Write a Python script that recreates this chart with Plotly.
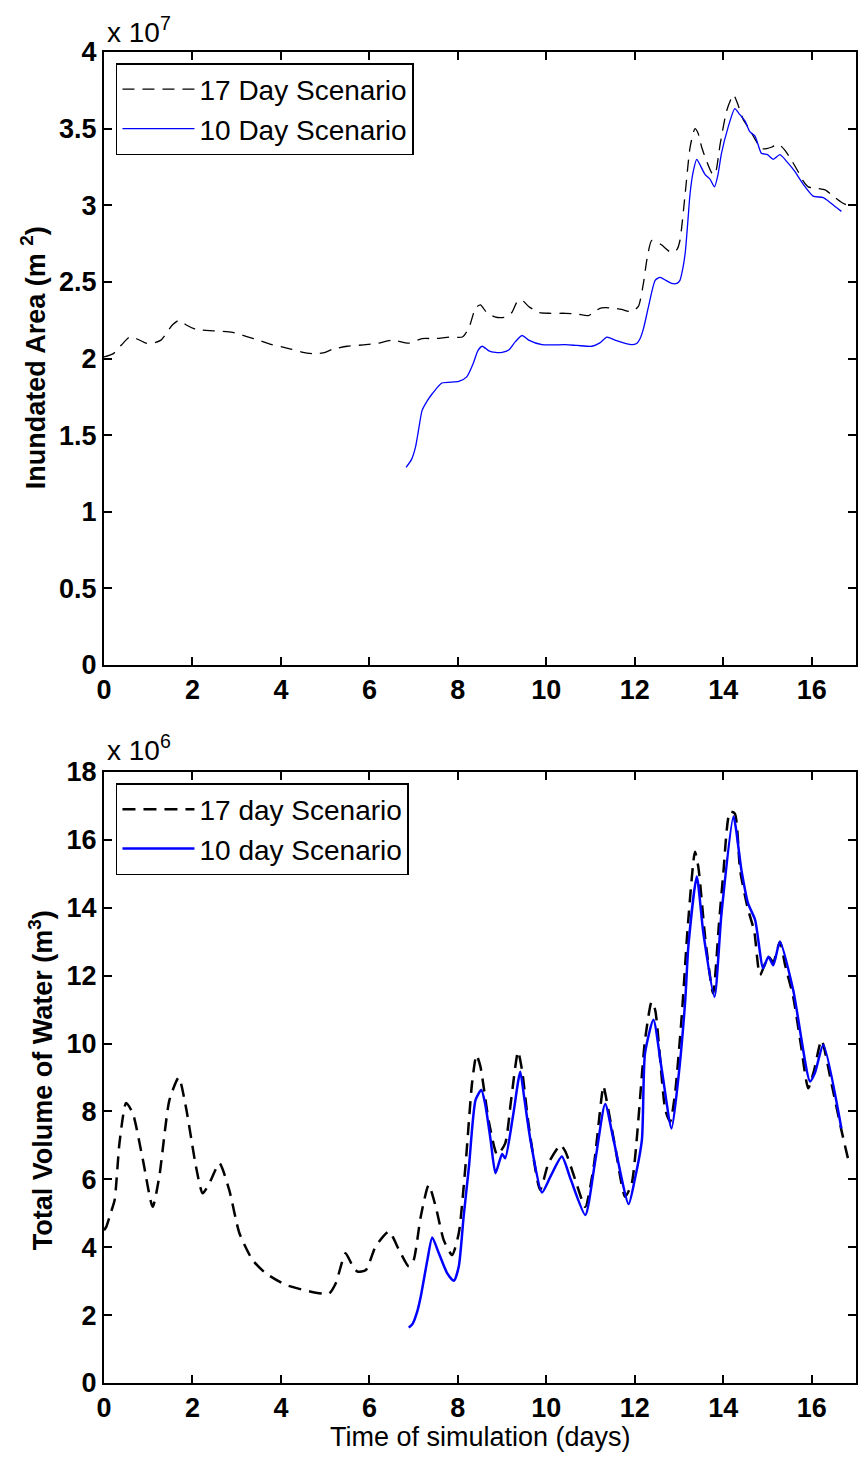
import plotly.graph_objects as go

# ---------------- data (top panel: inundated area, x 1e7 m^2) ----------------
area17_days = [0.00, 0.20, 0.40, 0.58, 0.73, 0.95, 1.10, 1.29, 1.55, 1.70, 1.85, 2.08, 2.50, 2.91,
               3.43, 3.80, 4.11, 4.50, 4.79, 5.00, 5.16, 5.50, 5.92, 6.20, 6.52, 6.89, 7.19, 7.50,
               7.80, 8.10, 8.25, 8.40, 8.51, 8.65, 8.85, 9.07, 9.22, 9.34, 9.45, 9.60, 9.83, 10.10,
               10.43, 10.70, 10.95, 11.10, 11.25, 11.48, 11.70, 11.93, 12.08, 12.20, 12.27, 12.38,
               12.50, 12.61, 12.83, 12.95, 13.02, 13.14, 13.25, 13.36, 13.43, 13.51, 13.62, 13.74,
               13.81, 13.93, 14.08, 14.23, 14.34, 14.45, 14.56, 14.70, 14.86, 14.98, 15.10, 15.24,
               15.39, 15.55, 15.69, 15.80, 15.92, 16.14, 16.30, 16.44, 16.67, 16.80]
area17_vals = [2.01, 2.03, 2.09, 2.14, 2.13, 2.10, 2.10, 2.12, 2.22, 2.25, 2.22, 2.19, 2.18, 2.17,
               2.125, 2.09, 2.07, 2.04, 2.03, 2.04, 2.06, 2.08, 2.09, 2.10, 2.12, 2.10, 2.13, 2.13,
               2.14, 2.14, 2.20, 2.33, 2.35, 2.30, 2.27, 2.27, 2.30, 2.37, 2.38, 2.34, 2.30, 2.295,
               2.295, 2.29, 2.28, 2.31, 2.33, 2.33, 2.32, 2.305, 2.34, 2.50, 2.64, 2.77,
               2.76, 2.74, 2.69, 2.71, 2.77, 3.08, 3.38, 3.50, 3.47, 3.38, 3.29, 3.21,
               3.20, 3.40, 3.62, 3.72, 3.65, 3.56, 3.51, 3.44, 3.37, 3.37, 3.38, 3.40,
               3.36, 3.29, 3.22, 3.16, 3.12, 3.11, 3.10, 3.07, 3.02, 3.00]

area10_days = [6.83, 6.95, 7.04, 7.12, 7.19, 7.30, 7.42, 7.64, 8.02, 8.20, 8.35, 8.45, 8.55, 8.70,
               8.85, 9.00, 9.15, 9.30, 9.45, 9.60, 9.90, 10.43, 10.70, 11.03, 11.20, 11.37, 11.55,
               11.93, 12.05, 12.12, 12.20, 12.31, 12.46, 12.57, 12.70, 12.83, 12.95, 13.02, 13.08,
               13.14, 13.20, 13.25, 13.32, 13.40, 13.48, 13.59, 13.70, 13.80, 13.88, 13.96, 14.11,
               14.26, 14.35, 14.49, 14.60, 14.72, 14.86, 15.00, 15.13, 15.28, 15.45, 15.62, 15.80,
               16.03, 16.26, 16.45, 16.67]
area10_vals = [1.29, 1.34, 1.42, 1.55, 1.66, 1.72, 1.77, 1.84, 1.85, 1.88, 1.97, 2.05, 2.08, 2.05,
               2.04, 2.04, 2.055, 2.11, 2.15, 2.12, 2.09, 2.09, 2.085, 2.08, 2.10, 2.14, 2.12,
               2.09, 2.10, 2.13, 2.20, 2.34, 2.51, 2.53, 2.51, 2.49, 2.49, 2.51, 2.58,
               2.69, 2.90, 3.08, 3.22, 3.30, 3.26, 3.20, 3.17, 3.12, 3.20, 3.34, 3.51,
               3.63, 3.60, 3.55, 3.48, 3.45, 3.34, 3.33, 3.30, 3.33, 3.28, 3.22, 3.14,
               3.06, 3.05, 3.01, 2.96]

# ---------------- data (bottom panel: total volume, x 1e6 m^3) ----------------
vol17_days = [0.00, 0.05, 0.15, 0.24, 0.35, 0.50, 0.65, 0.88, 1.10, 1.25, 1.48, 1.69, 1.85, 2.08,
              2.23, 2.38, 2.61, 2.83, 3.06, 3.36, 3.66, 4.11, 4.79, 5.09, 5.24, 5.46, 5.60, 5.73,
              5.92, 6.14, 6.44, 6.67, 6.89, 7.00, 7.16, 7.34, 7.50, 7.68, 7.87, 8.02, 8.17, 8.32,
              8.42, 8.51, 8.70, 8.89, 9.07, 9.20, 9.36, 9.45, 9.60, 9.86, 10.05, 10.32, 10.43,
              10.65, 10.88, 11.07, 11.29, 11.33, 11.55, 11.78, 11.93, 12.23, 12.38, 12.46, 12.69,
              12.80, 12.91, 13.06, 13.20, 13.36, 13.44, 13.60, 13.77, 13.90, 14.00, 14.15, 14.26,
              14.38, 14.55, 14.70, 14.83, 15.02, 15.13, 15.28, 15.40, 15.58, 15.75, 15.92, 16.05,
              16.22, 16.45, 16.67, 16.84]
vol17_vals = [4.5, 4.6, 5.0, 5.39, 7.07, 8.25, 7.95, 6.57, 5.19, 6.08, 8.34, 9.0, 8.14, 6.37,
              5.59, 5.88, 6.47, 5.69, 4.42, 3.62, 3.23, 2.89, 2.66, 2.64, 2.94, 3.82, 3.50, 3.28,
              3.33, 4.02, 4.46, 3.92, 3.43, 3.62, 4.90, 5.83, 5.19, 4.21, 3.77, 4.41, 6.37, 8.83,
              9.66, 9.32, 7.7, 6.72, 7.06, 8.3, 9.76, 9.22, 7.6, 5.69, 6.48, 7.01, 6.82,
              6.0, 5.19, 6.37, 8.75, 8.54, 7.0, 5.49, 5.88, 10.1, 11.23, 10.99, 8.04,
              7.7, 8.54, 10.8, 13.5, 15.65, 15.16, 13.0, 11.48, 13.5, 15.0, 16.83, 16.78,
              15.11, 14.0, 13.3, 12.02, 12.56, 12.4, 13.0, 12.3, 11.38, 10.0, 8.68, 9.2,
              10.1, 8.8, 7.45, 6.5]

vol10_days = [6.89, 6.98, 7.08, 7.16, 7.31, 7.42, 7.57, 7.76, 7.91, 8.02, 8.13, 8.25, 8.40, 8.53,
              8.62, 8.74, 8.85, 9.00, 9.07, 9.25, 9.41, 9.50, 9.64, 9.90, 10.10, 10.35, 10.55,
              10.88, 11.10, 11.33, 11.52, 11.86, 12.00, 12.16, 12.23, 12.42, 12.61, 12.83, 12.98,
              13.14, 13.21, 13.40, 13.55, 13.80, 13.96, 14.23, 14.41, 14.56, 14.72, 14.90, 15.02,
              15.13, 15.28, 15.58, 15.96, 16.07, 16.26, 16.67]
vol10_vals = [1.63, 1.75, 2.1, 2.54, 3.62, 4.29, 3.82, 3.23, 3.01, 3.43, 4.9, 6.37, 8.34, 8.63,
              8.2, 7.16, 6.18, 6.75, 6.62, 7.9, 9.17, 8.4, 7.16, 5.61, 6.1, 6.67, 6.0,
              4.95, 6.5, 8.22, 7.16, 5.27, 6.0, 7.16, 9.71, 10.70, 9.22, 7.50, 8.93,
              11.28, 12.86, 14.92, 13.25, 11.38, 13.84, 16.69, 15.11, 14.13, 13.64, 12.22, 12.56,
              12.31, 13.0, 11.58, 8.88, 9.13, 9.96, 7.50]

x_ticks = [0, 2, 4, 6, 8, 10, 12, 14, 16]
area_ticks = [0, 0.5, 1, 1.5, 2, 2.5, 3, 3.5, 4]
area_tick_text = ["0", "0.5", "1", "1.5", "2", "2.5", "3", "3.5", "4"]
vol_ticks = [0, 2, 4, 6, 8, 10, 12, 14, 16, 18]

FONT = "Liberation Sans, Arial, sans-serif"
BLUE = "#0000ff"

fig = go.Figure()
fig.add_trace(go.Scatter(x=area17_days, y=area17_vals, mode="lines", name="17 Day Scenario",
                         line=dict(color="black", width=1.3, dash="12px,8px", shape="spline", smoothing=0.6),
                         xaxis="x", yaxis="y", legend="legend"))
fig.add_trace(go.Scatter(x=area10_days, y=area10_vals, mode="lines", name="10 Day Scenario",
                         line=dict(color=BLUE, width=1.3, shape="spline", smoothing=0.6),
                         xaxis="x", yaxis="y", legend="legend"))
fig.add_trace(go.Scatter(x=vol17_days, y=vol17_vals, mode="lines", name="17 day Scenario",
                         line=dict(color="black", width=2.5, dash="13px,8px", shape="spline", smoothing=0.6),
                         xaxis="x2", yaxis="y2", legend="legend2"))
fig.add_trace(go.Scatter(x=vol10_days, y=vol10_vals, mode="lines", name="10 day Scenario",
                         line=dict(color=BLUE, width=2.5, shape="spline", smoothing=0.6),
                         xaxis="x2", yaxis="y2", legend="legend2"))

axis_common = dict(showline=True, linecolor="black", linewidth=2, mirror="ticks", ticks="inside",
                   ticklen=8, tickwidth=1.5, tickcolor="black", showgrid=False, zeroline=False,
                   tickfont=dict(family=FONT, size=27, color="black", weight="bold"))

H = 1458 - 52 - 75
top_dom = [1 - (665 - 52) / H, 1]
bot_dom = [0, 1 - (772 - 52) / H]

def py(p):
    return 1 - (p - 52) / H

def px(p):
    return (p - 104) / 754

legend_common = dict(bgcolor="white", bordercolor="black", borderwidth=1.5,
                     font=dict(family=FONT, size=28, color="black"), itemwidth=72,
                     xanchor="left", yanchor="top", tracegroupgap=0)

fig.update_layout(
    width=862, height=1458,
    margin=dict(l=104, r=4, t=52, b=75),
    paper_bgcolor="white", plot_bgcolor="white",
    xaxis=dict(domain=[0, 1], range=[0, 17], tickvals=x_ticks, anchor="y", **axis_common),
    yaxis=dict(domain=top_dom, range=[0, 4], tickvals=area_ticks, ticktext=area_tick_text,
               anchor="x", **axis_common),
    xaxis2=dict(domain=[0, 1], range=[0, 17], tickvals=x_ticks, anchor="y2", **axis_common),
    yaxis2=dict(domain=bot_dom, range=[0, 18], tickvals=vol_ticks, anchor="x2", **axis_common),
    legend=dict(x=px(116), y=py(63), **legend_common),
    legend2=dict(x=px(116), y=py(783), **legend_common),
    showlegend=True,
)

ann = [
    dict(text="x 10<sup>7</sup>", x=px(105), y=py(30), xanchor="left", yanchor="middle",
         font=dict(family=FONT, size=28, color="black")),
    dict(text="x 10<sup>6</sup>", x=px(105), y=py(748), xanchor="left", yanchor="middle",
         font=dict(family=FONT, size=28, color="black")),
    dict(text="<b>Inundated Area (m <sup>2</sup>)</b>", x=px(33), y=py(358), textangle=-90,
         xanchor="center", yanchor="middle", font=dict(family=FONT, size=27, color="black")),
    dict(text="<b>Total Volume of Water (m<sup>3</sup>)</b>", x=px(41), y=py(1080), textangle=-90,
         xanchor="center", yanchor="middle", font=dict(family=FONT, size=27, color="black")),
    dict(text="Time of simulation (days)", x=px(481), y=py(1437), xanchor="center", yanchor="middle",
         font=dict(family=FONT, size=27, color="black")),
]
for a in ann:
    a.update(xref="paper", yref="paper", showarrow=False)
fig.update_layout(annotations=ann)

fig.write_html("out.html")
